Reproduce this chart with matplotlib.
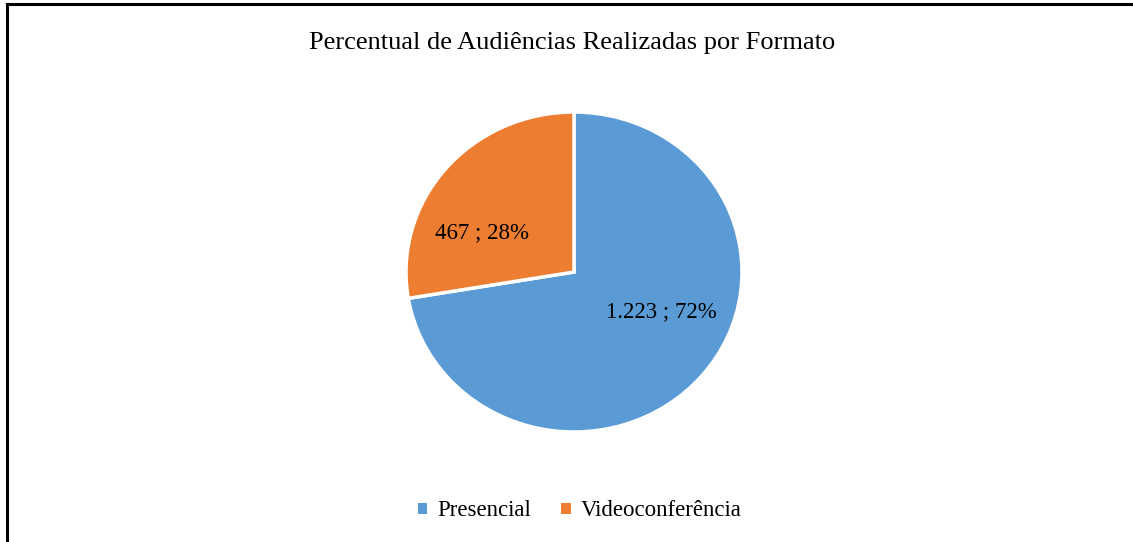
import matplotlib
matplotlib.use("Agg")
import matplotlib.pyplot as plt
from matplotlib.lines import Line2D
from matplotlib.patches import Patch

categories = ["Presencial", "Videoconferência"]
values = [1223, 467]
labels = ["1.223 ; 72%", "467 ; 28%"]
colors = ["#5B9BD5", "#ED7D31"]

W, H = 1133, 542
fig = plt.figure(figsize=(W / 100, H / 100), dpi=100)
plt.rcParams['font.family'] = ['Liberation Serif', 'DejaVu Serif']

cx, cy = 574, 272
rx, ry = 168, 160
ax = fig.add_axes([(cx - rx) / W, (H - cy - ry) / H, 2 * rx / W, 2 * ry / H])
wedges, _ = ax.pie(values, colors=colors, startangle=90, counterclock=False,
                   radius=1.0, wedgeprops=dict(edgecolor="white", linewidth=2.5))
ax.set_aspect('auto')
ax.set_xlim(-1, 1)
ax.set_ylim(-1, 1)

# data labels
ax.text((661 - cx) / rx, -(312 - cy) / ry, labels[0], ha="center", va="center", fontsize=16.5)
ax.text((482 - cx) / rx, -(233 - cy) / ry, labels[1], ha="center", va="center", fontsize=16.5)

fig.text(572 / W, 1 - 43 / H, "Percentual de Audiências Realizadas por Formato",
         ha="center", va="center", fontsize=19)

handles = [Patch(facecolor=c, edgecolor="none") for c in colors]
leg = fig.legend(handles, categories, loc="center", bbox_to_anchor=(580 / W, 1 - 511 / H),
                 ncol=2, frameon=False, fontsize=16.5, handlelength=0.4, handleheight=0.4,
                 handletextpad=0.45, columnspacing=1.3)

# border lines
fig.add_artist(Line2D([7 / W, 1], [1 - 3.5 / H, 1 - 3.5 / H], color="black", lw=2.2,
                      transform=fig.transFigure))
fig.add_artist(Line2D([7 / W, 7 / W], [1 - 3.5 / H, 0], color="black", lw=2.2,
                      transform=fig.transFigure))

fig.savefig("out.png", dpi=100)
